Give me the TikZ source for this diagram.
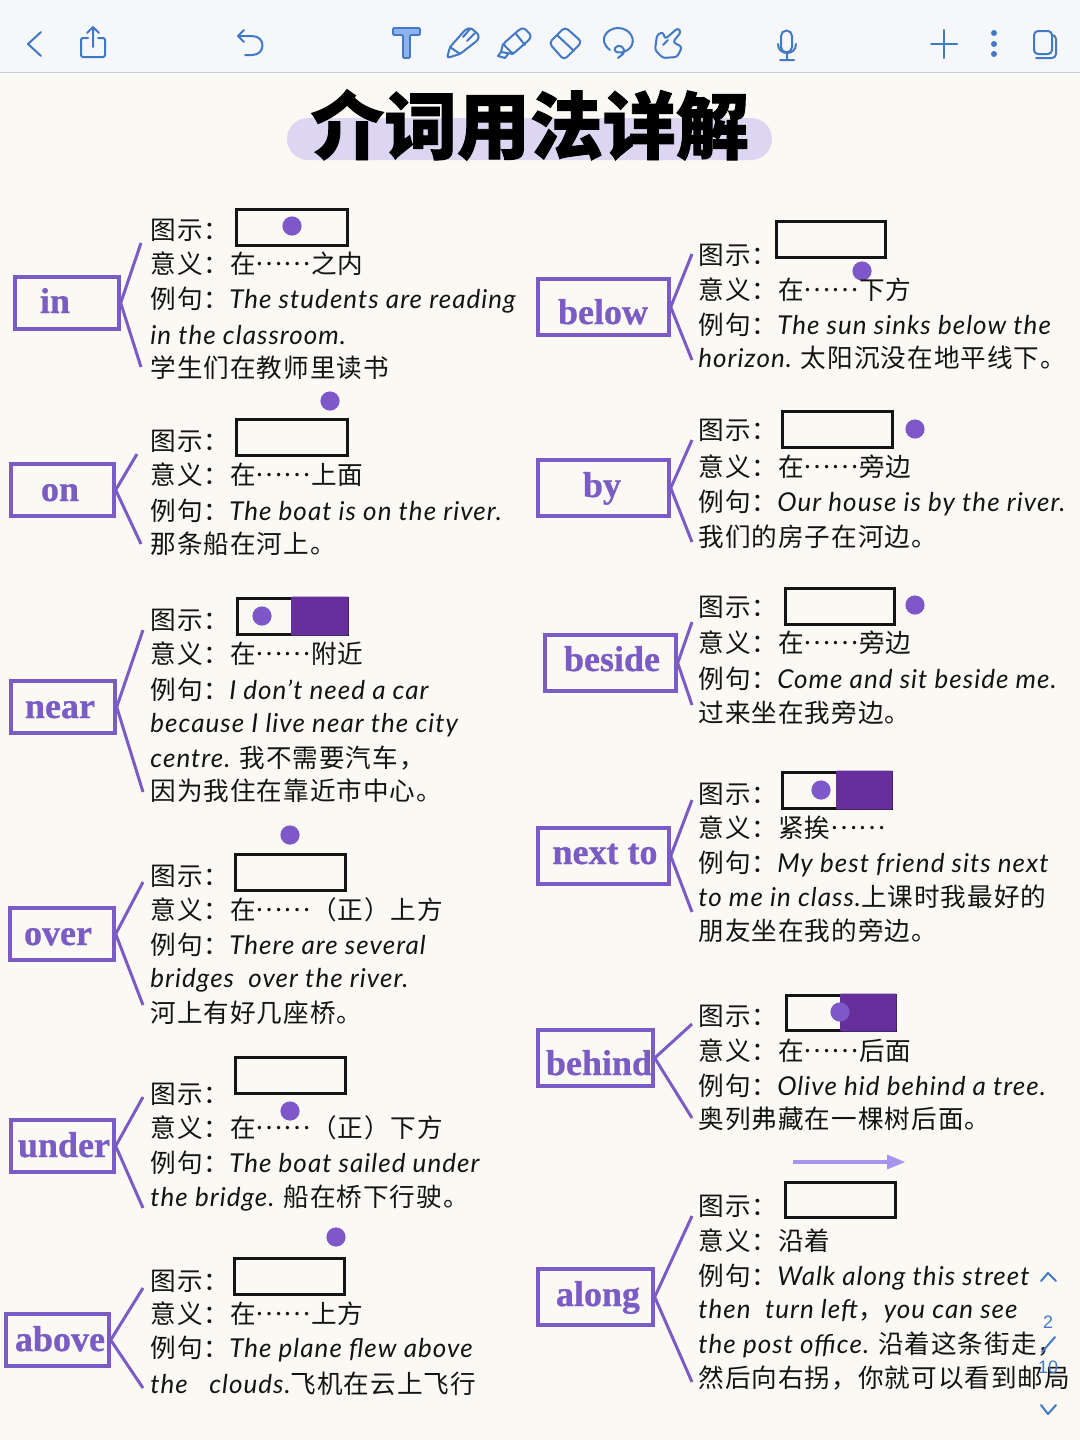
\documentclass[tikz,border=0pt]{standalone}
\usepackage{fontspec}
\setmainfont[LetterSpace=4]{Noto Sans CJK SC}
\newfontfamily\latinhand[LetterSpace=4]{Lato}
\newfontfamily\wordfont[FakeBold=0.8]{Liberation Serif}
\newfontfamily\titlefont[FakeBold=1.3]{Noto Sans CJK SC}
\newfontfamily\uifont{Liberation Sans}
\newcommand{\E}[1]{{\latinhand\itshape\fontsize{13}{15}\selectfont #1}}
\newcommand{\dd}{\raisebox{.32em}{……}}
\definecolor{paper}{HTML}{FBF9F3}
\definecolor{barbg}{HTML}{F6F7FB}
\definecolor{barline}{HTML}{C9CAD3}
\definecolor{boxpurple}{HTML}{7B5CC4}
\definecolor{dotpurple}{HTML}{7E57C9}
\definecolor{deep}{HTML}{662F9C}
\definecolor{lav}{HTML}{A594F0}
\definecolor{pill}{HTML}{DCD6F2}
\definecolor{ink}{HTML}{141414}
\definecolor{ui}{HTML}{4279C4}
\definecolor{uifill}{HTML}{8DB2EE}
\newcounter{tn}
\tikzset{
  txt/.style={anchor=west,inner sep=0pt,text=ink,font=\fontsize{12.8}{15}\selectfont},
  wordbox/.style={draw=boxpurple,line width=1.7pt,rectangle,inner sep=0pt},
  wordlabel/.style={anchor=base,inner sep=0pt,text=boxpurple,font=\wordfont\bfseries\fontsize{18}{20}\selectfont},
  branch/.style={draw=boxpurple,line width=1.5pt},
  figbox/.style={draw=ink,line width=1.5pt},
  uiline/.style={draw=ui,line width=1pt,line cap=round,line join=round},
  uitext/.style={inner sep=0pt,text=ui,font=\uifont\fontsize{9}{10}\selectfont}
}
\newcommand{\tx}[3]{\stepcounter{tn}\node[txt] (t\arabic{tn}) at (#1,#2) {#3};}
\newcommand{\wbox}[8]{%
  \pgfmathsetmacro{\wbw}{(#4-#2)/2}\pgfmathsetmacro{\wbh}{(#5-#3)/2}%
  \node[wordbox,minimum width=\wbw pt,minimum height=\wbh pt] (#1) at ({(#2+#4)/2},{(#3+#5)/2}) {};
  \node[wordlabel] (#1T) at (#6,#7) {#8};}
\newcommand{\brn}[5]{%
  \coordinate (#1a) at (#2,#3);\coordinate (#1b) at (#4,#5);
  \draw[branch] (#1a) -- (#1.east) -- (#1b);}
\newcommand{\fig}[6]{%
  \draw[figbox] (#1,#2) rectangle (#3,#4);
  \fill[dotpurple] (#5,#6) circle[radius=4.8pt];}
\newcommand{\figfill}[7]{%
  \draw[figbox] (#1,#2) rectangle (#3,#4);
  \fill[deep,rounded corners=0.6pt] (#5,#2-1.5) rectangle (#3+1.5,#4+1.5);
  \fill[dotpurple] (#6,#7) circle[radius=4.8pt];}
\begin{document}
\begin{tikzpicture}[x=0.5pt,y=-0.5pt]
\useasboundingbox (0,0) rectangle (1080,1440);
\fill[paper] (0,0) rectangle (1080,1440);
% toolbar
\fill[barbg] (0,0) rectangle (1080,72);
\draw[barline,line width=0.6pt] (0,72.5) -- (1080,72.5);
\draw[uiline] (41,32) -- (28,44) -- (41,56);
\draw[uiline,rounded corners=1pt] (88,38) -- (81,38) -- (81,57) -- (105,57) -- (105,38) -- (98,38);
\draw[uiline] (93,47) -- (93,27) (87,33) -- (93,27) -- (99,33);
\draw[uiline] (244,30) -- (238,36) -- (244,42);
\draw[uiline] (238,36) -- (252,36) .. controls (266,36) and (266,55) .. (252,55) -- (245,55);
\draw[ui,fill=uifill,line width=0.9pt,rounded corners=0.6pt] (393,28) -- (420,28) -- (420,35) -- (410,35) -- (410,58) -- (403,58) -- (403,35) -- (393,35) -- cycle;
% pencil
\draw[uiline,rounded corners=1.2pt] (447,58) -- (450,47) -- (466,29) -- (471,28) -- (479,35) -- (478,40) -- (460,54) -- cycle;
\draw[uiline] (450,47) -- (460,54) (463,37) -- (470,29) (467,41) -- (475,33);
% marker
\draw[uiline,rounded corners=1.2pt] (503,44) -- (520,29) -- (524,28) -- (531,35) -- (530,39) -- (513,54) -- cycle;
\draw[uiline] (503,44) -- (501,52) -- (513,54) (501,52) -- (498,56) -- (505,58) -- (508,54);
\draw[uiline] (516,34) -- (525,45);
% eraser
\draw[uiline,rounded corners=2pt] (549,43) -- (565,27) -- (582,42) -- (564,60) -- cycle;
\draw[uiline] (557,35) -- (574,51);
% lasso
\draw[uiline] (610,50) .. controls (597,40) and (607,28) .. (618,28) .. controls (630,28) and (637,40) .. (630,48) .. controls (624,54) and (613,54) .. (615,48) .. controls (618,43) and (627,47) .. (623,54) -- (618,58);
% hand
\draw[uiline,rounded corners=1.3pt] (663,58) -- (655,50) -- (657,35) -- (663,32) -- (665,39) -- (678,28) -- (681,32) -- (673,42) -- (682,47) -- (677,57) -- cycle;
\draw[uiline] (663,45) -- (668,40);
% mic
\draw[uiline] (781,36) arc[start angle=180,end angle=360,radius=5.5] -- (792,47) arc[start angle=0,end angle=180,radius=5.5] -- cycle;
\draw[uiline] (778,44) .. controls (778,56) and (796,56) .. (796,44) (787,53) -- (787,60) (780,60) -- (794,60);
\draw[uiline] (931,44) -- (957,44) (944,30) -- (944,58);
\fill[ui] (994,33) circle[radius=1.5pt] (994,44) circle[radius=1.5pt] (994,54) circle[radius=1.5pt];
\draw[uiline,rounded corners=2pt] (1034,31) rectangle (1052,54);
\draw[uiline,rounded corners=2pt] (1052,35) -- (1056,35) -- (1056,58) -- (1036,58);
% title
\fill[pill,rounded corners=10.5pt] (287,118) rectangle (772,160);
\node[inner sep=0pt,text=black] (title) at (530,125) {\titlefont\bfseries\fontsize{36.5}{40}\selectfont 介词用法详解};
% --- left column
\wbox{in}{15}{277}{119}{329}{55}{313}{in}
\brn{in}{141}{243}{141}{367}
\fig{236}{209}{347}{245}{292}{226}
\tx{150}{230}{图示：}\tx{150}{264}{意义：在\dd 之内}
\tx{150}{300}{例句：\E{The students are reading}}
\tx{150}{335}{\E{in the classroom.}}\tx{150}{368}{学生们在教师里读书}

\wbox{on}{11}{464}{114}{516}{60}{501}{on}
\brn{on}{137}{454}{141}{544}
\fig{236}{419}{347}{455}{330}{401}
\tx{150}{441}{图示：}\tx{150}{475}{意义：在\dd 上面}
\tx{150}{511}{例句：\E{The boat is on the river.}}\tx{150}{544}{那条船在河上。}

\wbox{near}{11}{681}{115}{733}{60}{718}{near}
\brn{near}{143}{630}{143}{792}
\figfill{237}{598}{347}{634}{291}{262}{616}
\tx{150}{620}{图示：}\tx{150}{654}{意义：在\dd 附近}
\tx{150}{690}{例句：\E{I don’t need a car}}
\tx{150}{725}{\E{because I live near the city}}
\tx{150}{758}{\E{centre.} 我不需要汽车，}\tx{150}{791}{因为我住在靠近市中心。}

\wbox{over}{10}{908}{114}{960}{58}{945}{over}
\brn{over}{143}{882}{143}{1005}
\fig{235}{854}{345}{890}{290}{835}
\tx{150}{876}{图示：}\tx{150}{910}{意义：在\dd （正）上方}
\tx{150}{945}{例句：\E{There are several}}
\tx{150}{980}{\E{bridges\ \ over the river.}}\tx{150}{1013}{河上有好几座桥。}

\wbox{under}{11}{1120}{114}{1172}{64}{1157}{under}
\brn{under}{143}{1097}{143}{1208}
\fig{235}{1057}{345}{1093}{290}{1111}
\tx{150}{1094}{图示：}\tx{150}{1128}{意义：在\dd （正）下方}
\tx{150}{1163}{例句：\E{The boat sailed under}}
\tx{150}{1198}{\E{the bridge.} 船在桥下行驶。}

\wbox{above}{6}{1314}{109}{1366}{60}{1351}{above}
\brn{above}{143}{1288}{143}{1388}
\fig{234}{1258}{344}{1294}{336}{1237}
\tx{150}{1281}{图示：}\tx{150}{1314}{意义：在\dd 上方}
\tx{150}{1349}{例句：\E{The plane flew above}}
\tx{150}{1384}{\E{the\ \ \ clouds.}飞机在云上飞行}

% --- right column
\wbox{below}{538}{279}{669}{335}{603}{324}{below}
\brn{below}{692}{254}{692}{360}
\fig{776}{221}{885}{257}{862}{271}
\tx{698}{255}{图示：}\tx{698}{290}{意义：在\dd 下方}
\tx{698}{325}{例句：\E{The sun sinks below the}}
\tx{698}{358}{\E{horizon.} 太阳沉没在地平线下。}

\wbox{by}{538}{460}{669}{516}{602}{497}{by}
\brn{by}{692}{440}{692}{542}
\fig{782}{411}{892}{447}{915}{429}
\tx{698}{430}{图示：}\tx{698}{467}{意义：在\dd 旁边}
\tx{698}{503}{例句：\E{Our house is by the river.}}\tx{698}{537}{我们的房子在河边。}

\wbox{beside}{545}{635}{676}{691}{612}{671}{beside}
\brn{beside}{692}{622}{692}{705}
\fig{785}{588}{894}{624}{915}{605}
\tx{698}{607}{图示：}\tx{698}{643}{意义：在\dd 旁边}
\tx{698}{679}{例句：\E{Come and sit beside me.}}\tx{698}{713}{过来坐在我旁边。}

\wbox{nextto}{538}{828}{669}{884}{605}{864}{next to}
\brn{nextto}{692}{800}{692}{912}
\figfill{782}{772}{891}{808}{836}{821}{790}
\tx{698}{794}{图示：}\tx{698}{828}{意义：紧挨\dd}
\tx{698}{864}{例句：\E{My best friend sits next}}
\tx{698}{897}{\E{to me in class.}上课时我最好的}\tx{698}{931}{朋友坐在我的旁边。}

\wbox{behind}{538}{1030}{653}{1086}{599}{1075}{behind}
\brn{behind}{692}{1024}{692}{1118}
\figfill{786}{995}{895}{1030}{840}{840}{1012}
\tx{698}{1016}{图示：}\tx{698}{1051}{意义：在\dd 后面}
\tx{698}{1086}{例句：\E{Olive hid behind a tree.}}\tx{698}{1119}{奥列弗藏在一棵树后面。}

\wbox{along}{538}{1269}{653}{1325}{598}{1306}{along}
\brn{along}{692}{1216}{692}{1382}
\coordinate (arrA) at (793,1162);\coordinate (arrB) at (905,1162);
\fill[lav] (887,1154.5) -- (arrB) -- (887,1169.5) -- cycle;
\draw[lav,line width=1.8pt] (arrA) -- (888,1162);
\draw[figbox] (785,1182) rectangle (895,1217);
\tx{698}{1206}{图示：}\tx{698}{1241}{意义：沿着}
\tx{698}{1277}{例句：\E{Walk along this street}}
\tx{698}{1311}{\E{then\ \ turn left}，\E{you can see}}
\tx{698}{1345}{\E{the post office.} 沿着这条街走，}
\tx{698}{1378}{然后向右拐，你就可以看到邮局}
% page scroller
\draw[uiline] (1041,1281) -- (1048,1273) -- (1056,1281);
\node[uitext] (pageA) at (1048,1322) {2};
\draw[uiline] (1055,1337) -- (1042,1352);
\node[uitext] (pageB) at (1048,1367) {10};
\draw[uiline] (1041,1405) -- (1048,1414) -- (1056,1405);
\end{tikzpicture}
\end{document}
